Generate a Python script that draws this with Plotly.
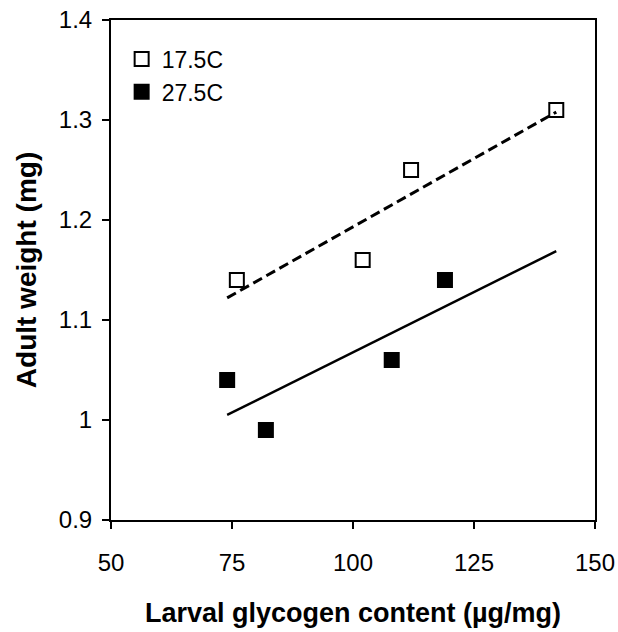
import numpy as np
import plotly.graph_objects as go

# Data
cold_label = "17.5C"
cold_x = [76, 102, 112, 142]
cold_y = [1.14, 1.16, 1.25, 1.31]

warm_label = "27.5C"
warm_x = [74, 82, 108, 119]
warm_y = [1.04, 0.99, 1.06, 1.14]

fit_range = [74, 142]

x_ticks = [50, 75, 100, 125, 150]
y_ticks = [0.9, 1.0, 1.1, 1.2, 1.3, 1.4]
y_tick_text = ["0.9", "1", "1.1", "1.2", "1.3", "1.4"]

x_title = "Larval glycogen content (µg/mg)"
y_title = "Adult weight (mg)"


def fit_line(xs, ys, xr):
    m, b = np.polyfit(xs, ys, 1)
    xr = np.array(xr, dtype=float)
    return xr, m * xr + b


fig = go.Figure()

fx, fy = fit_line(warm_x, warm_y, fit_range)
fig.add_trace(go.Scatter(x=fx, y=fy, mode="lines", showlegend=False,
                         line=dict(color="black", width=2.5), hoverinfo="skip"))
fx, fy = fit_line(cold_x, cold_y, fit_range)

fig.add_trace(go.Scatter(x=cold_x, y=cold_y, mode="markers", name=cold_label,
                         legendgroup="a",
                         marker=dict(symbol="square", size=14, color="white",
                                     line=dict(color="black", width=2))))
fig.add_trace(go.Scatter(x=warm_x, y=warm_y, mode="markers", name=warm_label,
                         legendgroup="b",
                         marker=dict(symbol="square", size=16, color="black",
                                     line=dict(color="black", width=0))))
fig.add_trace(go.Scatter(x=fx, y=fy, mode="lines", showlegend=False,
                         line=dict(color="black", width=3, dash="10px,5px"),
                         hoverinfo="skip"))

fig.update_layout(
    width=618, height=632,
    margin=dict(l=111, r=23, t=20, b=112, autoexpand=False),
    paper_bgcolor="white", plot_bgcolor="white",
    font=dict(family="Liberation Sans, Arial, sans-serif", color="black", size=24),
    legend=dict(x=0.022, y=0.965, xanchor="left", yanchor="top",
                bgcolor="rgba(0,0,0,0)", font=dict(size=23),
                tracegroupgap=0, itemwidth=30),
    showlegend=True,
)

fig.update_xaxes(
    range=[50, 150], tickvals=x_ticks, ticks="outside", ticklen=7, tickwidth=1.5,
    tickcolor="black", showline=True, linecolor="black", linewidth=2,
    mirror=True, showgrid=False, zeroline=False, ticklabelstandoff=13,
    automargin=False,
    title=dict(text=f"<b>{x_title}</b>", font=dict(size=27), standoff=28),
)
fig.update_yaxes(
    range=[0.9, 1.4], tickvals=y_ticks, ticktext=y_tick_text, ticks="outside",
    ticklen=7, tickwidth=1.5, tickcolor="black", showline=True, linecolor="black",
    linewidth=2, mirror=True, showgrid=False, zeroline=False, ticklabelstandoff=5,
    automargin=False,
    title=dict(text=f"<b>{y_title}</b>", font=dict(size=28), standoff=14),
)

fig.write_html("out.html", config={"displayModeBar": False},
               post_script="document.body.style.margin='0';")
